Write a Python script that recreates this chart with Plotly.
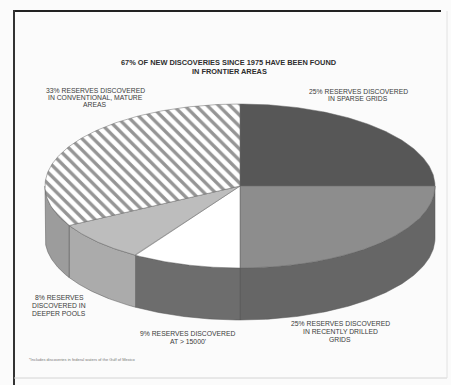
import numpy as np
import plotly.graph_objects as go

# ---- data -------------------------------------------------------------
segments = [
    "Sparse grids",
    "Recently drilled grids",
    "Deep targets",
    "Deeper pools",
    "Conventional, mature areas",
]
shares = [25, 25, 9, 8, 33]

label_lines = [
    ["25% RESERVES DISCOVERED", "IN SPARSE GRIDS"],
    ["25% RESERVES DISCOVERED", "IN RECENTLY DRILLED", "GRIDS"],
    ["9% RESERVES DISCOVERED", "AT > 15000'"],
    ["8% RESERVES", "DISCOVERED IN", "DEEPER POOLS"],
    ["33% RESERVES DISCOVERED", "IN CONVENTIONAL, MATURE", "AREAS"],
]
title_lines = ["67% OF NEW DISCOVERIES SINCE 1975 HAVE BEEN FOUND", "IN FRONTIER AREAS"]
footnote = "*Includes discoveries in federal waters of the Gulf of Mexico"

# ---- styling ----------------------------------------------------------
top_colors = ["#575757", "#8d8d8d", "#ffffff", "#bdbdbd", "#ffffff"]
side_colors = ["#4a4a4a", "#666666", "#6d6d6d", "#ababab", "#9c9c9c"]
patterns = [None, None, None, None, "\\"]
label_pos = [(358, 91), (340, 323), (188, 333), (59, 297), (95, 90)]
label_step = [7.3, 8.2, 8.0, 8.0, 7.3]

W, H = 451, 385
CX, CY = 240, 186       # centre of the top face
RX, RY = 195, 82        # semi-axes of the top face
DEPTH = 52              # thickness of the disc
TEXT = "#3a3a3a"
FONT = "Liberation Sans, Arial, sans-serif"


def rim(t0, t1, n=120):
    t = np.linspace(t0, t1, n)
    return CX + RX * np.sin(t), CY - RY * np.cos(t)


fig = go.Figure()

cum = np.concatenate([[0], np.cumsum(shares)]) / sum(shares) * 2 * np.pi

# side walls (only the front half of the disc is visible)
for i in range(len(shares)):
    s0 = max(cum[i], np.pi / 2)
    s1 = min(cum[i + 1], 3 * np.pi / 2)
    if s1 <= s0:
        continue
    xs, ys = rim(s0, s1)
    px = np.concatenate([xs, xs[::-1], xs[:1]])
    py = np.concatenate([ys, ys[::-1] + DEPTH, ys[:1]])
    fig.add_trace(go.Scatter(
        x=px, y=py, mode="lines", fill="toself",
        fillcolor=side_colors[i], line=dict(color="#555555", width=0.5),
        hoverinfo="skip", name=segments[i],
    ))

# top faces
for i in range(len(shares)):
    xs, ys = rim(cum[i], cum[i + 1])
    px = np.concatenate([[CX], xs, [CX]])
    py = np.concatenate([[CY], ys, [CY]])
    kw = {}
    if patterns[i]:
        kw["fillpattern"] = dict(shape=patterns[i], fgcolor="#2b2b2b",
                                 bgcolor="#ffffff", size=8, solidity=0.42)
    fig.add_trace(go.Scatter(
        x=px, y=py, mode="lines", fill="toself",
        fillcolor=top_colors[i], line=dict(color="#666666", width=0.5),
        hoverinfo="skip", name=segments[i], **kw,
    ))

annotations = []
for lines, (lx, ly), step in zip(label_lines, label_pos, label_step):
    for k, line in enumerate(lines):
        annotations.append(dict(
            x=lx, y=ly + k * step, xref="x", yref="y", text=line,
            showarrow=False, xanchor="center", yanchor="middle",
            font=dict(family=FONT, size=6.8, color=TEXT),
        ))
for k, line in enumerate(title_lines):
    annotations.append(dict(
        x=229, y=62 + k * 9, xref="x", yref="y", text="<b>%s</b>" % line,
        showarrow=False, xanchor="center", yanchor="middle",
        font=dict(family=FONT, size=7.4, color="#2e2e2e"),
    ))
annotations.append(dict(
    x=27, y=359, xref="x", yref="y", text=footnote, showarrow=False,
    xanchor="left", yanchor="middle",
    font=dict(family=FONT, size=4, color="#777777"),
))

shapes = [
    dict(type="line", x0=14, x1=441, y0=11, y1=11, xref="x", yref="y",
         line=dict(color="#222222", width=2)),
    dict(type="line", x0=14, x1=14, y0=10, y1=385, xref="x", yref="y",
         line=dict(color="#333333", width=2)),
    dict(type="line", x0=14, x1=447, y0=378, y1=378, xref="x", yref="y",
         line=dict(color="#d4d4d4", width=1)),
    dict(type="line", x0=447, x1=447, y0=11, y1=378, xref="x", yref="y",
         line=dict(color="#e2e2e2", width=1)),
]

fig.update_layout(
    width=W, height=H, margin=dict(l=0, r=0, t=0, b=0),
    paper_bgcolor="#fbfbfb", plot_bgcolor="#fbfbfb",
    showlegend=False, annotations=annotations, shapes=shapes,
    xaxis=dict(range=[0, W], visible=False, fixedrange=True),
    yaxis=dict(range=[H, 0], visible=False, fixedrange=True),
)

fig.write_html("out.html", config={"displayModeBar": False})
